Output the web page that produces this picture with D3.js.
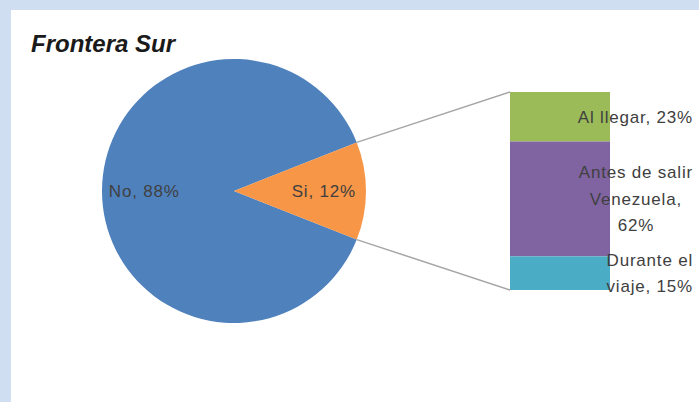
<!DOCTYPE html>
<html>
<head>
<meta charset="utf-8">
<script src="https://cdn.jsdelivr.net/npm/d3@7"></script>
<style>
  html, body { margin: 0; padding: 0; background: #cfdef0; }
  svg { display: block; }
  text { font-family: "Liberation Sans", Arial, sans-serif; fill: #404040; }
</style>
</head>
<body>
<div id="chart"></div>
<script>
// main pie
const pieCategories = ["No", "Si"];
const pieValues = [88, 12];

// breakdown of "Si" shown in the stacked bar
const barCategories = ["Al llegar", "Antes de salir Venezuela", "Durante el viaje"];
const barShares = [25, 58, 17];          // segment sizes as drawn
const barLabels = [
  ["Al llegar, 23%"],
  ["Antes de salir", "Venezuela,", "62%"],
  ["Durante el", "viaje, 15%"]
];

const title = "Frontera Sur";

const width = 699, height = 402;
const pieColors = ["#4f81bd", "#f79646"];
const barColors = ["#9bbb59", "#8064a2", "#4bacc6"];

const svg = d3.select("#chart").append("svg")
  .attr("width", width)
  .attr("height", height);

// white plot panel inside the light blue frame
svg.append("rect")
  .attr("x", 11).attr("y", 10)
  .attr("width", width - 11).attr("height", height - 10)
  .attr("fill", "#ffffff");

svg.append("text")
  .attr("x", 31).attr("y", 52)
  .attr("font-size", 24)
  .attr("font-weight", "bold")
  .attr("font-style", "italic")
  .style("fill", "#1a1a1a")
  .text(title);

// pie
const cx = 234, cy = 191, r = 132;
const total = d3.sum(pieValues);
const splitAngle = pieValues[1] / total * 2 * Math.PI;
const start = Math.PI / 2 + splitAngle / 2;

const pie = d3.pie().sort(null).startAngle(start).endAngle(start + 2 * Math.PI);
const arcs = pie(pieValues);
const arc = d3.arc().innerRadius(0).outerRadius(r);
const labelArc = d3.arc().innerRadius(r * 0.68).outerRadius(r * 0.68);

const $pie = svg.append("g").attr("transform", `translate(${cx},${cy})`);

$pie.selectAll(".slice")
  .data(arcs)
  .enter()
  .append("path")
  .attr("class", "slice")
  .attr("d", arc)
  .attr("fill", (d, i) => pieColors[i]);

$pie.selectAll(".pie-label")
  .data(arcs)
  .enter()
  .append("text")
  .attr("class", "pie-label")
  .attr("transform", d => `translate(${labelArc.centroid(d)})`)
  .attr("text-anchor", "middle")
  .attr("dy", "0.35em")
  .attr("font-size", 17)
  .attr("letter-spacing", 0.8)
  .text((d, i) => `${pieCategories[i]}, ${Math.round(d.value / total * 100)}%`);

// stacked bar
const barX = 510, barW = 100;
const y = d3.scaleLinear().domain([0, d3.sum(barShares)]).range([92, 290]);
const stacked = d3.cumsum(barShares);
const segs = barShares.map((v, i) => ({ y0: stacked[i] - v, y1: stacked[i], i }));

// connector lines from the split slice edges to the bar
const si = arcs[1];
const edgePoint = a => [cx + r * Math.sin(a), cy - r * Math.cos(a)];
const p0 = edgePoint(si.startAngle), p1 = edgePoint(si.endAngle);
svg.append("line")
  .attr("x1", p0[0]).attr("y1", p0[1])
  .attr("x2", barX).attr("y2", y(0))
  .attr("stroke", "#a6a6a6").attr("stroke-width", 1.5);
svg.append("line")
  .attr("x1", p1[0]).attr("y1", p1[1])
  .attr("x2", barX).attr("y2", y(d3.sum(barShares)))
  .attr("stroke", "#a6a6a6").attr("stroke-width", 1.5);

svg.selectAll(".seg")
  .data(segs)
  .enter()
  .append("rect")
  .attr("class", "seg")
  .attr("x", barX)
  .attr("width", barW)
  .attr("y", d => y(d.y0))
  .attr("height", d => y(d.y1) - y(d.y0))
  .attr("fill", d => barColors[d.i]);

// labels sit right of the bar centre, pushed back inside the chart edge
const lineH = 26.5, rightEdge = 693;
segs.forEach(d => {
  const lines = barLabels[d.i];
  const mid = (y(d.y0) + y(d.y1)) / 2;
  const t = svg.append("text")
    .attr("class", "bar-label")
    .attr("font-size", 17)
    .attr("letter-spacing", 0.8)
    .attr("text-anchor", "middle")
    .attr("data-name", barCategories[d.i]);
  lines.forEach((s, k) => {
    t.append("tspan")
      .attr("x", barX + barW / 2 + 110)
      .attr("y", mid + (k - (lines.length - 1) / 2) * lineH)
      .attr("dy", "0.35em")
      .text(s);
  });
  const bb = t.node().getBBox();
  const shift = Math.min(0, rightEdge - (bb.x + bb.width));
  t.attr("transform", `translate(${shift},0)`);
});
</script>
</body>
</html>
